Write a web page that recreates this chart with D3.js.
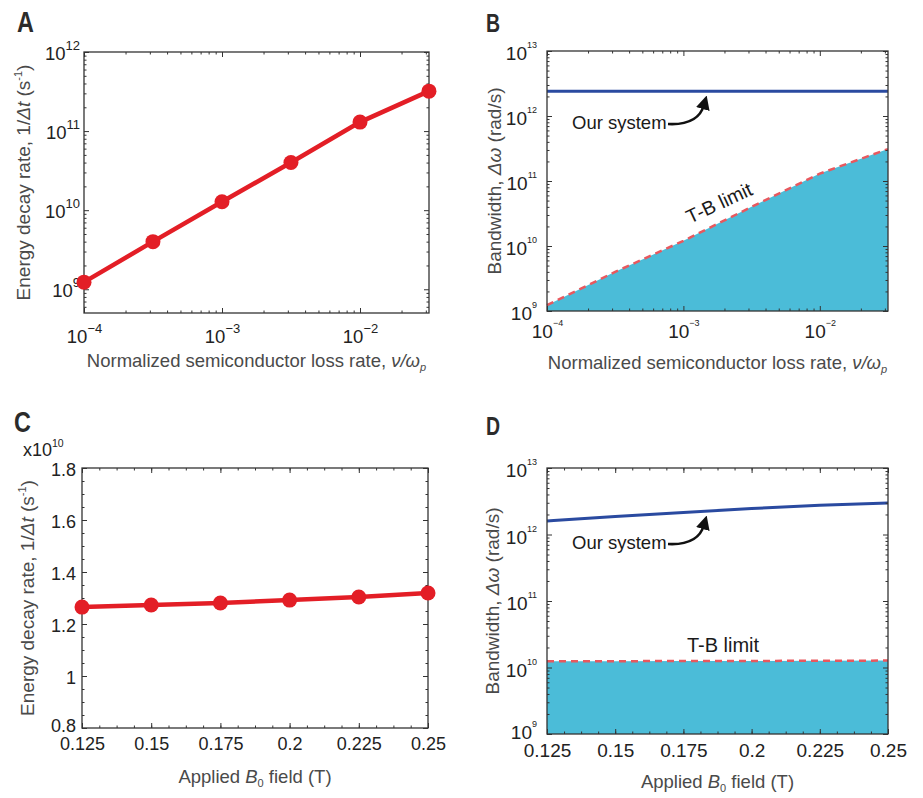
<!DOCTYPE html>
<html>
<head>
<meta charset="utf-8">
<script src="https://cdn.jsdelivr.net/npm/d3@7"></script>
<style>
  body { margin: 0; background: #fff; }
  text { font-family: "Liberation Sans", Arial, Helvetica, sans-serif; }
</style>
</head>
<body>
<svg id="fig" width="923" height="798"></svg>
<script>
// ---- data ----
const lossRate = [1e-4, 3.16e-4, 1e-3, 3.16e-3, 1e-2, 3.16e-2];
const decayRateA = [1.23e9, 4.0e9, 1.28e10, 4.0e10, 1.3e11, 3.2e11];
const tbLimitB = [1.23e9, 4.0e9, 1.2e10, 4.0e10, 1.3e11, 3.1e11];
const ourSystemBx = [1e-4, 3.16e-2];
const ourSystemB = [2.4e12, 2.4e12];

const fieldB0 = [0.125, 0.15, 0.175, 0.2, 0.225, 0.25];
const decayRateC = [1.265, 1.273, 1.281, 1.292, 1.304, 1.319]; // x 10^10
const tbLimitD = [1.24e10, 1.245e10, 1.25e10, 1.255e10, 1.262e10, 1.27e10];
const fieldD = [0.125, 0.15, 0.175, 0.2, 0.225, 0.25];
const ourSystemD = [1.6e12, 1.87e12, 2.15e12, 2.45e12, 2.76e12, 2.98e12];

const logXTicks = [1e-4, 1e-3, 1e-2];
const yTicksA = [1e9, 1e10, 1e11, 1e12];
const yTicksBD = [1e9, 1e10, 1e11, 1e12, 1e13];
const yTicksC = [0.8, 1, 1.2, 1.4, 1.6, 1.8];
const fieldTicks = [0.125, 0.15, 0.175, 0.2, 0.225, 0.25];

const RED = "#e31e26", BLUE = "#2a4aa0", CYAN = "#4bbcd8", DASH = "#e8585e";
const TEXT = "#222", LABEL = "#4a4a4a", AXIS = "#333";

const svg = d3.select("#fig");

svg.append("defs").append("marker")
  .attr("id", "head")
  .attr("viewBox", "0 0 10 10")
  .attr("refX", 3).attr("refY", 5)
  .attr("markerUnits", "userSpaceOnUse")
  .attr("markerWidth", 14).attr("markerHeight", 14)
  .attr("orient", "auto")
  .append("path").attr("d", "M0,0 L10,5 L0,10 Z").attr("fill", "#111");

function logMinor(dom) {
  const out = [];
  const a = Math.floor(Math.log10(dom[0])), b = Math.ceil(Math.log10(dom[1]));
  for (let n = a; n <= b; n++)
    for (let k = 2; k <= 9; k++) {
      const v = k * Math.pow(10, n);
      if (v > dom[0] * 1.0001 && v < dom[1] * 0.9999) out.push(v);
    }
  return out;
}

function expLabel(sel, expSize, raise) {
  sel.each(function(d) {
    const e = Math.round(Math.log10(d));
    const t = d3.select(this);
    t.text(null);
    t.append("tspan").text("10");
    t.append("tspan").attr("font-size", expSize).attr("dy", -raise)
      .text(String(e).replace("-", "\u2212"));
  });
}

function panel(o) {
  const g = svg.append("g");
  const x = (o.xlog ? d3.scaleLog() : d3.scaleLinear()).domain(o.xd).range([o.x0, o.x1]);
  const y = (o.ylog ? d3.scaleLog() : d3.scaleLinear()).domain(o.yd).range([o.y1, o.y0]);
  return { g, x, y, o };
}

function axes(p) {
  const { g, x, y, o } = p;
  const xMinor = o.xlog ? logMinor(x.domain()) : o.xMinor;
  const yMinor = o.ylog ? logMinor(y.domain()) : o.yMinor;

  // minor ticks on all four sides
  const minor = [
    [d3.axisBottom(x).tickValues(xMinor), `translate(0,${o.y1})`],
    [d3.axisTop(x).tickValues(xMinor), `translate(0,${o.y0})`],
    [d3.axisLeft(y).tickValues(yMinor), `translate(${o.x0},0)`],
    [d3.axisRight(y).tickValues(yMinor), `translate(${o.x1},0)`]
  ];
  minor.forEach(([ax, tr]) => {
    g.append("g").attr("transform", tr)
      .call(ax.tickSizeInner(-2.5).tickSizeOuter(0).tickFormat(""))
      .call(s => s.select(".domain").remove());
  });

  // mirrored major ticks
  g.append("g").attr("transform", `translate(0,${o.y0})`)
    .call(d3.axisTop(x).tickValues(o.xTicks).tickSizeInner(-5).tickSizeOuter(0).tickFormat(""))
    .call(s => s.select(".domain").remove());
  g.append("g").attr("transform", `translate(${o.x1},0)`)
    .call(d3.axisRight(y).tickValues(o.yTicks).tickSizeInner(-5).tickSizeOuter(0).tickFormat(""))
    .call(s => s.select(".domain").remove());

  // labelled major ticks
  const xb = g.append("g").attr("transform", `translate(0,${o.y1})`)
    .call(d3.axisBottom(x).tickValues(o.xTicks).tickSizeInner(-5).tickSizeOuter(0))
    .call(s => s.select(".domain").remove());
  xb.selectAll("text").attr("y", o.xLabOff).attr("dy", 0)
    .attr("fill", TEXT).attr("font-size", o.tickSize)
    .style("font-family", '"Liberation Sans", Arial, sans-serif');
  if (o.xlog) expLabel(xb.selectAll("text"), o.expSize, o.raise);
  else xb.selectAll("text").text(d => String(d));

  const yl = g.append("g").attr("transform", `translate(${o.x0},0)`)
    .call(d3.axisLeft(y).tickValues(o.yTicks).tickSizeInner(-5).tickSizeOuter(0).tickPadding(o.yPad))
    .call(s => s.select(".domain").remove());
  yl.selectAll("text").attr("dy", o.yDy)
    .attr("fill", TEXT).attr("font-size", o.tickSize)
    .style("font-family", '"Liberation Sans", Arial, sans-serif');
  if (o.ylog) expLabel(yl.selectAll("text"), o.expSize, o.raise);
  else yl.selectAll("text").text(d => String(d));
  if (o.lowNudge) yl.selectAll("text").filter(d => d === o.yd[0]).attr("dy", o.lowNudge);

  g.selectAll(".tick line").attr("stroke", AXIS);

  g.append("rect")
    .attr("x", o.x0).attr("y", o.y0)
    .attr("width", o.x1 - o.x0).attr("height", o.y1 - o.y0)
    .attr("fill", "none").attr("stroke", AXIS).attr("stroke-width", 1.3);
}

function yTitle(p, cx, parts) {
  const cy = (p.o.y0 + p.o.y1) / 2;
  const t = p.g.append("text")
    .attr("transform", `translate(${cx},${cy}) rotate(-90)`)
    .attr("text-anchor", "middle").attr("font-size", 19).attr("fill", LABEL);
  parts(t);
}

function xTitle(p, y, parts) {
  const cx = (p.o.x0 + p.o.x1) / 2;
  const t = p.g.append("text")
    .attr("x", cx).attr("y", y)
    .attr("text-anchor", "middle").attr("font-size", 18.5).attr("fill", LABEL);
  parts(t);
}

function letter(txt, x, y, size) {
  svg.append("text")
    .attr("transform", `translate(${x},${y}) scale(0.78,1)`)
    .attr("font-size", size).attr("font-weight", "bold")
    .attr("fill", "#2b2b2b")
    .text(txt);
}

const lossTitle = t => {
  t.append("tspan").text("Normalized semiconductor loss rate, ");
  t.append("tspan").attr("font-style", "italic").text("\u03BD/\u03C9");
  t.append("tspan").attr("font-style", "italic").attr("font-size", 11).attr("dy", 4).text("p");
};
const fieldTitle = t => {
  t.append("tspan").text("Applied ");
  t.append("tspan").attr("font-style", "italic").text("B");
  t.append("tspan").attr("font-size", 11).attr("dy", 4).text("0");
  t.append("tspan").attr("dy", -4).text(" field (T)");
};
const decayTitle = t => {
  t.append("tspan").text("Energy decay rate, 1/");
  t.append("tspan").attr("font-style", "italic").text("\u0394t");
  t.append("tspan").text(" (s");
  t.append("tspan").attr("font-size", 11).attr("dy", -8).text("-1");
  t.append("tspan").attr("dy", 8).text(")");
};
const bwTitle = t => {
  t.append("tspan").text("Bandwidth, ");
  t.append("tspan").attr("font-style", "italic").text("\u0394\u03C9");
  t.append("tspan").text(" (rad/s)");
};

function ourSystem(p, tx, ty) {
  p.g.append("text").attr("x", tx).attr("y", ty)
    .attr("font-size", 18.5).attr("fill", "#1a1a1a").text("Our system");
  p.g.append("path")
    .attr("d", `M${tx + 96},${ty - 5} C${tx + 116},${ty - 4} ${tx + 128},${ty - 10} ${tx + 132},${ty - 24}`)
    .attr("fill", "none").attr("stroke", "#111").attr("stroke-width", 2.6)
    .attr("marker-end", "url(#head)");
}

// ---- Panel A ----
const A = panel({ x0: 84, x1: 429, y0: 52, y1: 313, xlog: true, ylog: true,
  xd: [1e-4, 10 ** -1.5], yd: [10 ** 8.7, 1e12],
  xTicks: logXTicks, yTicks: yTicksA, tickSize: 18.5, expSize: 13, raise: 10,
  xLabOff: 30, yPad: 4, yDy: "0.38em" });
A.g.append("path").datum(lossRate.map((v, i) => [v, decayRateA[i]]))
  .attr("fill", "none").attr("stroke", RED).attr("stroke-width", 4.5)
  .attr("d", d3.line().x(d => A.x(d[0])).y(d => A.y(d[1])));
axes(A);
A.g.selectAll("circle").data(lossRate).join("circle")
  .attr("cx", d => A.x(d)).attr("cy", (d, i) => A.y(decayRateA[i]))
  .attr("r", 7.5).attr("fill", RED);
yTitle(A, 30, decayTitle);
xTitle(A, 367, lossTitle);
letter("A", 17, 32, 30);

// ---- Panel B ----
const B = panel({ x0: 547, x1: 888, y0: 51, y1: 311, xlog: true, ylog: true,
  xd: [1e-4, 10 ** -1.5], yd: [1e9, 1e13],
  xTicks: logXTicks, yTicks: yTicksBD, tickSize: 19, expSize: 9, raise: 12,
  xLabOff: 27, yPad: 10, yDy: "0.45em" });
const tbB = lossRate.map((v, i) => [v, tbLimitB[i]]);
B.g.append("path").datum(tbB)
  .attr("fill", CYAN)
  .attr("d", d3.area().x(d => B.x(d[0])).y0(B.o.y1).y1(d => B.y(d[1])));
B.g.append("path").datum(tbB)
  .attr("fill", "none").attr("stroke", DASH).attr("stroke-width", 2.5)
  .attr("stroke-dasharray", "7,5")
  .attr("d", d3.line().x(d => B.x(d[0])).y(d => B.y(d[1])));
B.g.append("path").datum(ourSystemBx.map((v, i) => [v, ourSystemB[i]]))
  .attr("fill", "none").attr("stroke", BLUE).attr("stroke-width", 3)
  .attr("d", d3.line().x(d => B.x(d[0])).y(d => B.y(d[1])));
axes(B);
yTitle(B, 501, bwTitle);
xTitle(B, 369, lossTitle);
ourSystem(B, 572, 129);
B.g.append("text")
  .attr("transform", "translate(722,209) rotate(-25)")
  .attr("text-anchor", "middle").attr("font-size", 19.5).attr("fill", "#1a1a1a")
  .text("T-B limit");
letter("B", 486, 32, 25);

// ---- Panel C ----
const C = panel({ x0: 82, x1: 428, y0: 468, y1: 728, xlog: false, ylog: false,
  xd: [0.125, 0.25], yd: [0.8, 1.8],
  xTicks: fieldTicks, yTicks: yTicksC, tickSize: 18,
  xMinor: d3.range(0, 21).map(i => 0.125 + i * 0.00625).filter(v => v > 0.126 && v < 0.249),
  yMinor: d3.range(0, 21).map(i => 0.8 + i * 0.05).filter(v => v > 0.81 && v < 1.79),
  xLabOff: 22, yPad: 6, yDy: "0.4em", lowNudge: "0.2em" });
C.g.append("path").datum(fieldB0.map((v, i) => [v, decayRateC[i]]))
  .attr("fill", "none").attr("stroke", RED).attr("stroke-width", 4.5)
  .attr("d", d3.line().x(d => C.x(d[0])).y(d => C.y(d[1])));
axes(C);
C.g.selectAll("circle").data(fieldB0).join("circle")
  .attr("cx", d => C.x(d)).attr("cy", (d, i) => C.y(decayRateC[i]))
  .attr("r", 7.5).attr("fill", RED);
C.g.append("text").attr("x", 23).attr("y", 456).attr("font-size", 18).attr("fill", TEXT)
  .call(t => {
    t.append("tspan").text("x10");
    t.append("tspan").attr("font-size", 10.5).attr("dy", -9).text("10");
  });
yTitle(C, 34, decayTitle);
xTitle(C, 783, fieldTitle);
letter("C", 14, 432, 30);

// ---- Panel D ----
const D = panel({ x0: 547, x1: 888, y0: 468, y1: 734, xlog: false, ylog: true,
  xd: [0.125, 0.25], yd: [1e9, 1e13],
  xTicks: fieldTicks, yTicks: yTicksBD, tickSize: 19, expSize: 9, raise: 12,
  xMinor: d3.range(0, 21).map(i => 0.125 + i * 0.00625).filter(v => v > 0.126 && v < 0.249),
  xLabOff: 23, yPad: 10, yDy: "0.45em", lowNudge: "0.25em" });
const tbD = fieldB0.map((v, i) => [v, tbLimitD[i]]);
D.g.append("path").datum(tbD)
  .attr("fill", CYAN)
  .attr("d", d3.area().x(d => D.x(d[0])).y0(D.o.y1).y1(d => D.y(d[1])));
D.g.append("path").datum(tbD)
  .attr("fill", "none").attr("stroke", DASH).attr("stroke-width", 2.5)
  .attr("stroke-dasharray", "7,5")
  .attr("d", d3.line().x(d => D.x(d[0])).y(d => D.y(d[1])));
D.g.append("path").datum(fieldD.map((v, i) => [v, ourSystemD[i]]))
  .attr("fill", "none").attr("stroke", BLUE).attr("stroke-width", 3)
  .attr("d", d3.line().curve(d3.curveMonotoneX).x(d => D.x(d[0])).y(d => D.y(d[1])));
axes(D);
yTitle(D, 499, bwTitle);
xTitle(D, 788, fieldTitle);
ourSystem(D, 572, 549);
D.g.append("text").attr("x", 723).attr("y", 652)
  .attr("text-anchor", "middle").attr("font-size", 20).attr("fill", "#1a1a1a")
  .text("T-B limit");
letter("D", 486, 435, 25);
</script>
</body>
</html>
